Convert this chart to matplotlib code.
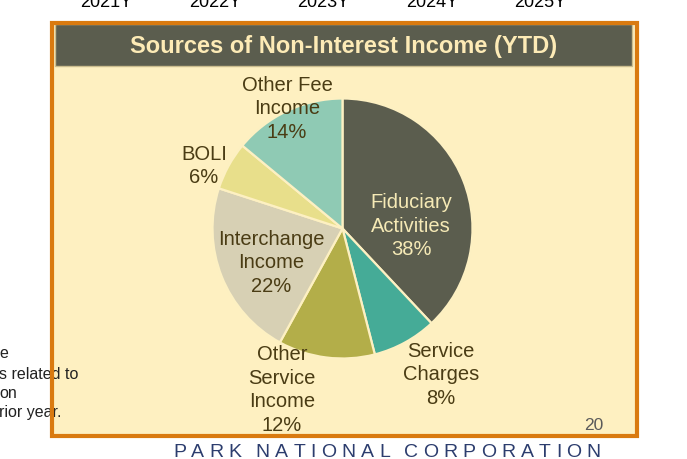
import matplotlib
matplotlib.use("Agg")
import matplotlib.pyplot as plt
from matplotlib.patches import Rectangle

plt.rcParams['font.family'] = ['Liberation Sans', 'DejaVu Sans']

# data
categories = ["Fiduciary\nActivities", "Service\nCharges", "Other\nService\nIncome",
              "Interchange\nIncome", "BOLI", "Other Fee\nIncome"]
shares = [38, 8, 12, 22, 6, 14]
slice_colors = ["#5b5d4e", "#45ab97", "#b3ae49", "#d7d0b4", "#e8df8b", "#8fcab4"]
year_labels = ["2021Y", "2022Y", "2023Y", "2024Y", "2025Y"]
side_note = ["e", "s related to", "on", "rior year."]
title = "Sources of Non-Interest Income (YTD)"
footer = "PARK NATIONAL CORPORATION"
page_no = "20"

W, H = 687, 459
fig = plt.figure(figsize=(W / 100, H / 100), dpi=100)
fig.patch.set_facecolor("white")

# background layer in pixel coords
bg = fig.add_axes([0, 0, 1, 1], zorder=0)
bg.set_xlim(0, W)
bg.set_ylim(H, 0)
bg.axis("off")

panel = "#fef0c1"
bg.add_patch(Rectangle((51, 22), 586, 414, facecolor=panel, edgecolor="none"))
bg.add_patch(Rectangle((55, 24), 577, 42, facecolor="#5b5d4e", edgecolor="#cbbd8e", lw=1))
bg.text(343.5, 46, title, ha="center", va="center", fontsize=17,
        fontweight="bold", color="#fdebb6")

# cut-off year labels at the very top
for i, y in enumerate(year_labels):
    bg.text(106.5 + i * 108.4, 7, y, ha="center", va="baseline", fontsize=13, color="black")

# cut-off note on the left
for line, yb in zip(side_note, [358, 379, 398, 417]):
    bg.text(-1, yb, line, ha="left", va="baseline", fontsize=11.5, color="#222222")

bg.text(603, 430, page_no, ha="right", va="baseline", fontsize=12.5, color="#5a5a5a")

# letter-spaced footer: measure glyphs, then spread them over the span
renderer = fig.canvas.get_renderer()
chars = list(footer)
widths = []
for ch in chars:
    t = bg.text(0, 0, ch if ch != " " else "n", fontsize=14)
    widths.append(t.get_window_extent(renderer).width)
    t.remove()
x0, x1 = 173, 601
n_gaps = len(chars) - 1
track = (x1 - x0 - sum(w for w, c in zip(widths, chars) if c != " ")
         - sum(0.3 * w for w, c in zip(widths, chars) if c == " ")) / n_gaps
x = x0
for ch, w in zip(chars, widths):
    if ch == " ":
        x += 0.3 * w + track
        continue
    bg.text(x, 457, ch, ha="left", va="baseline", fontsize=14, color="#2c3d6e")
    x += w + track

# pie
cx, cy, r = 342.5, 228.5, 130
lim = 1.05
half = r * lim
pie_ax = fig.add_axes([(cx - half) / W, (H - cy - half) / H, 2 * half / W, 2 * half / H], zorder=1)
pie_ax.pie(shares, colors=slice_colors, startangle=90, counterclock=False, radius=1,
           wedgeprops=dict(edgecolor="#fdf0c2", linewidth=1.6))
pie_ax.set_xlim(-lim, lim)
pie_ax.set_ylim(-lim, lim)
pie_ax.set_aspect("equal")
pie_ax.axis("off")

# top layer: labels and frame
top = fig.add_axes([0, 0, 1, 1], zorder=2)
top.set_xlim(0, W)
top.set_ylim(H, 0)
top.axis("off")
top.patch.set_alpha(0)

label_pos = [(411, 226), (441, 375), (282, 390), (271, 263), (204, 166), (287, 109)]
label_colors = ["#f6eab6", "#4a3c14", "#4a3c14", "#4a3c14", "#4a3c14", "#4a3c14"]
for name, val, (x, y), c in zip(categories, shares, label_pos, label_colors):
    top.text(x, y, f"{name}\n{val}%", ha="center", va="center", fontsize=14.5,
             color=c, linespacing=1.32)

top.add_patch(Rectangle((51.5, 22.5), 585, 413, facecolor="none", edgecolor="#d97a10", lw=3))

fig.savefig("out.png", dpi=100)
